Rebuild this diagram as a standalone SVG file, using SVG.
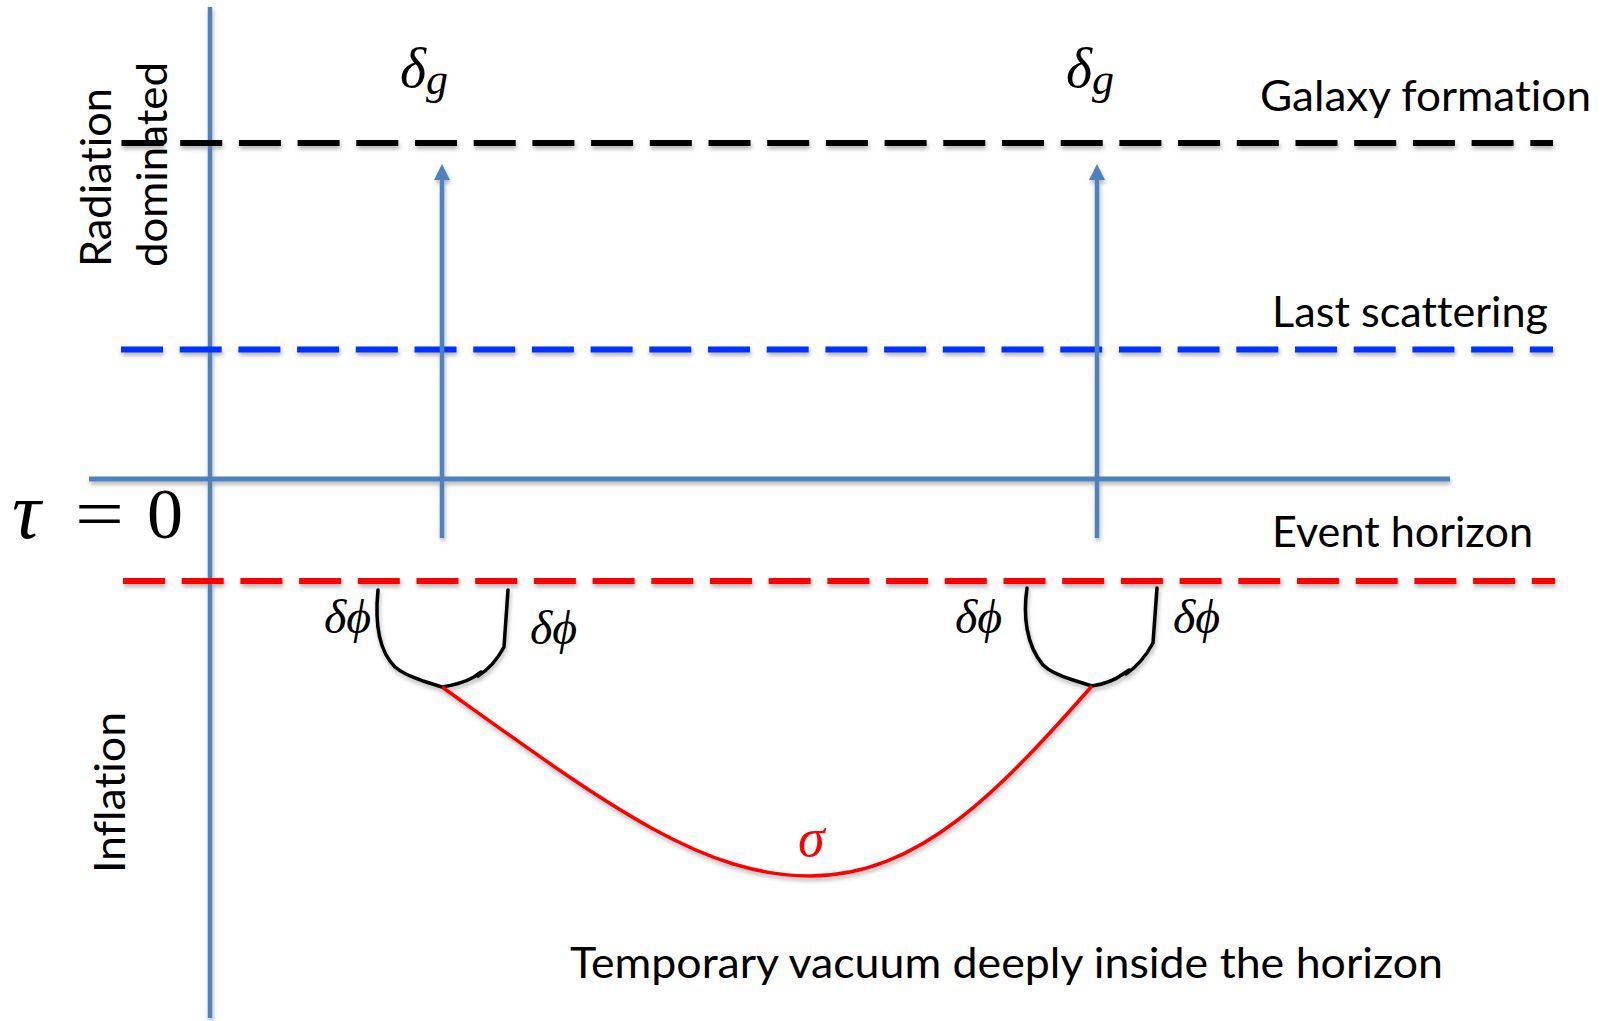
<svg xmlns="http://www.w3.org/2000/svg" width="1612" height="1021" viewBox="0 0 1612 1021">
<style>
.lbl{font-family:Lato,"Open Sans","Liberation Sans",sans-serif;font-size:42px;fill:#000;font-variant-ligatures:none;font-feature-settings:"liga" 0,"clig" 0}
.math{font-family:"Liberation Serif","DejaVu Serif",serif;font-style:italic;fill:#000}
.up{font-family:"Liberation Serif","DejaVu Serif",serif;fill:#000}
.dash{fill:none;stroke-width:6;stroke-dasharray:42 16.7}
.blue{stroke:#4F81BD;fill:none}
.loop{fill:none;stroke:#000;stroke-width:3.5;stroke-linejoin:round;stroke-linecap:round}
</style>
<defs>
<filter id="sh" x="-5%" y="-5%" width="110%" height="120%">
<feDropShadow dx="1" dy="3" stdDeviation="2" flood-color="#000" flood-opacity="0.3"/>
</filter>
<marker id="ah" markerUnits="userSpaceOnUse" markerWidth="16" markerHeight="16" viewBox="0 0 16 16" refX="0" refY="8" orient="auto">
<path d="M0,0 L16,8 L0,16 z" fill="#4F81BD"/>
</marker>
</defs>
<rect width="1612" height="1021" fill="#fff"/>
<g id="connectors" filter="url(#sh)">
<line class="blue" x1="210" y1="7" x2="210" y2="1018" stroke-width="4.5"/>
<line class="blue" x1="89" y1="479" x2="1450" y2="479" stroke-width="5"/>
<line class="dash" stroke="#000" x1="121.5" y1="143" x2="1553" y2="143"/>
<line class="dash" stroke="#0033FF" x1="121" y1="349.5" x2="1553" y2="349.5"/>
<line class="dash" stroke="#FF0000" x1="123" y1="581" x2="1555" y2="581"/>
<line class="blue" x1="442" y1="538" x2="442" y2="180" stroke-width="4.5" marker-end="url(#ah)"/>
<line class="blue" x1="1097" y1="538" x2="1097" y2="180" stroke-width="4.5" marker-end="url(#ah)"/>
<path class="loop" d="M378,590 C375,620 378,650 395,667 C402,673 410,676 423,681 L442,687 C455,685 465,682 474,677 L481,672 L478,676 C488,670 497,660 504,647 L508,590"/>
<path class="loop" d="M1027,588 C1023,615 1026,645 1043,665 C1050,672 1060,676 1073,680 L1092,686 C1105,684 1115,680 1123,674 L1129,670 L1126,674 C1138,666 1146,656 1153,643 L1157,588"/>
<path d="M442,687 C600,800 700,876 810,876 C920,876 1000,790 1092,686" fill="none" stroke="#FF0000" stroke-width="3.5"/>
</g>
<g id="galaxy-formation"><text class="lbl" x="1260" y="111" textLength="331" lengthAdjust="spacingAndGlyphs">Galaxy formation</text></g>
<g id="last-scattering"><text class="lbl" x="1272" y="327" textLength="276" lengthAdjust="spacingAndGlyphs">Last scattering</text></g>
<g id="event-horizon"><text class="lbl" x="1272" y="547" textLength="261" lengthAdjust="spacingAndGlyphs">Event horizon</text></g>
<g id="temporary-vacuum"><text class="lbl" x="570" y="978" textLength="873" lengthAdjust="spacingAndGlyphs">Temporary vacuum deeply inside the horizon</text></g>
<g id="radiation-dominated">
<text class="lbl" font-size="44" transform="translate(111,267) rotate(-90)" textLength="179" lengthAdjust="spacingAndGlyphs">Radiation</text>
<text class="lbl" font-size="44" transform="translate(167,267) rotate(-90)" textLength="205" lengthAdjust="spacingAndGlyphs">dominated</text>
</g>
<g id="inflation"><text class="lbl" transform="translate(125,873) rotate(-90)" textLength="161" lengthAdjust="spacingAndGlyphs">Inflation</text></g>
<g id="tau-zero">
<text class="math" x="12" y="538" font-size="80">τ</text>
<text class="up" x="75" y="538" font-size="72" textLength="49" lengthAdjust="spacingAndGlyphs">=</text>
<text class="up" x="147" y="538" font-size="72">0</text>
</g>
<g id="delta-g-left"><text class="math" x="400" y="87" font-size="56">δ<tspan font-size="44" dy="7">g</tspan></text></g>
<g id="delta-g-right"><text class="math" x="1066" y="87" font-size="56">δ<tspan font-size="44" dy="7">g</tspan></text></g>
<g id="dphi-1"><text class="math" x="324" y="633" font-size="48">δϕ</text></g>
<g id="dphi-2"><text class="math" x="530" y="644" font-size="48">δϕ</text></g>
<g id="dphi-3"><text class="math" x="955" y="633" font-size="48">δϕ</text></g>
<g id="dphi-4"><text class="math" x="1173" y="633" font-size="48">δϕ</text></g>
<g id="sigma"><text class="math" x="798" y="856" font-size="54" fill="#FF0000" style="fill:#FF0000">σ</text></g>
</svg>
